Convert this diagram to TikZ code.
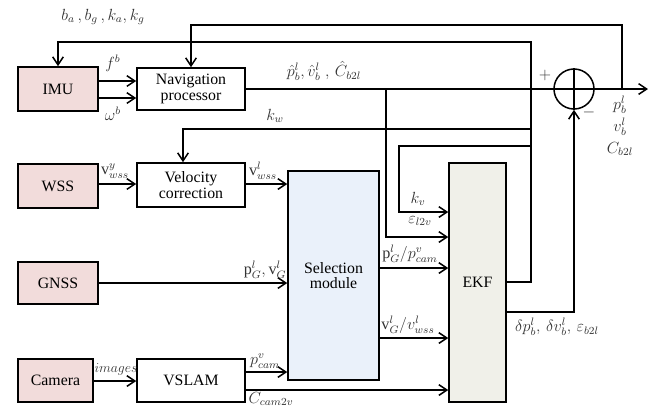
\documentclass[tikz,border=0pt]{standalone}
\usepackage{fontspec}
\setmainfont{Liberation Serif}
\usetikzlibrary{arrows.meta}

\definecolor{srcpink}{HTML}{F2DCDB}
\definecolor{selblue}{HTML}{EAF1FA}
\definecolor{ekfgray}{HTML}{F0F0E9}

\begin{document}
\begin{tikzpicture}[x=0.03cm, y=-0.03cm, line width=1.3pt,
    >={Straight Barb[length=2.4mm,width=3.2mm]}]
    \tikzset{blk/.style={draw, fill=white, inner sep=1pt, align=center,
                         font=\fontsize{13.5}{15}\selectfont},
             srcblk/.style={blk, fill=srcpink},
             lbl/.style={font=\fontsize{12}{14}\selectfont, scale=1.15, text=black!80, inner sep=1pt}} %% box styles
    \useasboundingbox (0,0) rectangle (669,407);

    %% sensors
    \node[srcblk, minimum width=2.4cm,  minimum height=1.32cm] (imu)  at (58,89)     {IMU};
    \node[srcblk, minimum width=2.4cm,  minimum height=1.32cm] (wss)  at (58,186)    {WSS};
    \node[srcblk, minimum width=2.4cm,  minimum height=1.26cm] (gnss) at (58,283)    {GNSS};
    \node[srcblk, minimum width=2.25cm, minimum height=1.29cm] (cam)  at (55.5,380.5) {Camera};

    %% processing blocks
    \node[blk, minimum width=3.24cm, minimum height=1.26cm] (nav)    at (191,89)    {Navigation\\[-2pt]processor};
    \node[blk, minimum width=3.24cm, minimum height=1.32cm] (velcor) at (191,185)   {Velocity\\[-2pt]correction};
    \node[blk, minimum width=3.24cm, minimum height=1.29cm] (vslam)  at (191,380.5) {VSLAM};
    \node[blk, fill=selblue, minimum width=2.73cm, minimum height=6.27cm] (sel) at (333.5,275.5) {Selection\\[-2pt]module};
    \node[blk, fill=ekfgray, minimum width=1.71cm, minimum height=7.17cm] (ekf) at (477.5,282.5) {EKF};
    \node[draw, circle, minimum size=1.2cm, inner sep=0pt] (sum) at (574,89) {};
    \draw (sum.north) -- (sum.south) (sum.west) -- (sum.east);
    \coordinate (outend) at (648,89);

    %% sensor links
    \draw[->] (imu.east |- 0,81) -- (nav.west |- 0,81);
    \draw[->] (imu.east |- 0,98) -- (nav.west |- 0,98);
    \draw[->] (wss.east |- 0,184) -- (velcor.west |- 0,184);
    \draw[->] (velcor.east |- 0,184) -- (sel.west |- 0,184);
    \draw[->] (gnss.east) -- (sel.west |- gnss.east);
    \draw[->] (cam.east |- 0,381) -- (vslam.west |- 0,381);
    \draw[->] (vslam.east |- 0,372) -- (sel.west |- 0,372);
    \draw[->] (vslam.east |- 0,390) -- (ekf.west |- 0,390);
    \draw[->] (sel.east |- 0,268) -- (ekf.west |- 0,268);
    \draw[->] (sel.east |- 0,338) -- (ekf.west |- 0,338);

    %% navigation output and feedback
    \draw (nav.east) -- (sum.west);
    \draw[->] (sum.east) -- (outend);
    \draw[->] (622,89) |- (nav.north |- 0,25) -- (nav.north);
    \draw[->] (386,89) |- (ekf.west |- 0,237);
    \draw[->] (ekf.east |- 0,282) -| (531,42) -| (imu.north);
    \draw[->] (531,129) -| (velcor.north -| 183,0);
    \draw[->] (531,146) -| (399,212) -- (ekf.west |- 0,212);
    \draw[->] (ekf.east |- 0,312) -| (sum.south);

    %% labels
    \node[lbl] at (103,17)  {$b_a\,,b_g\,,k_a,k_g$};
    \node[lbl] at (113,63)  {$f^b$};
    \node[lbl] at (113,114) {$\omega^b$};
    \node[lbl] at (324,71)  {$\hat{p}_b^l,\hat{v}_b^l\;,\,\hat{C}_{b2l}$};
    \node[lbl] at (275,116) {$k_w$};
    \node[lbl] at (545,75)  {$+$};
    \node[lbl] at (589,112) {$-$};
    \node[lbl] at (620,105) {$p_b^l$};
    \node[lbl] at (620,127) {$v_b^l$};
    \node[lbl] at (620,149) {$C_{b2l}$};
    \node[lbl] at (115,171) {$\mathrm{v}_{wss}^y$};
    \node[lbl] at (263,171) {$\mathrm{v}_{wss}^l$};
    \node[lbl] at (418,199) {$k_v$};
    \node[lbl] at (420,221) {$\varepsilon_{l2v}$};
    \node[lbl] at (410,254) {$\mathrm{p}_G^l/p_{cam}^v$};
    \node[lbl] at (265,270) {$\mathrm{p}_G^l,\mathrm{v}_G^l$};
    \node[lbl] at (408,325) {$\mathrm{v}_G^l/v_{wss}^l$};
    \node[lbl] at (557,327) {$\delta p_b^l,\,\delta v_b^l,\,\varepsilon_{b2l}$};
    \node[lbl] at (265,361) {$p_{cam}^v$};
    \node[lbl, scale=0.85] at (116,369) {$images$};
    \node[lbl] at (271,399) {$C_{cam2v}$};
\end{tikzpicture}
\end{document}
